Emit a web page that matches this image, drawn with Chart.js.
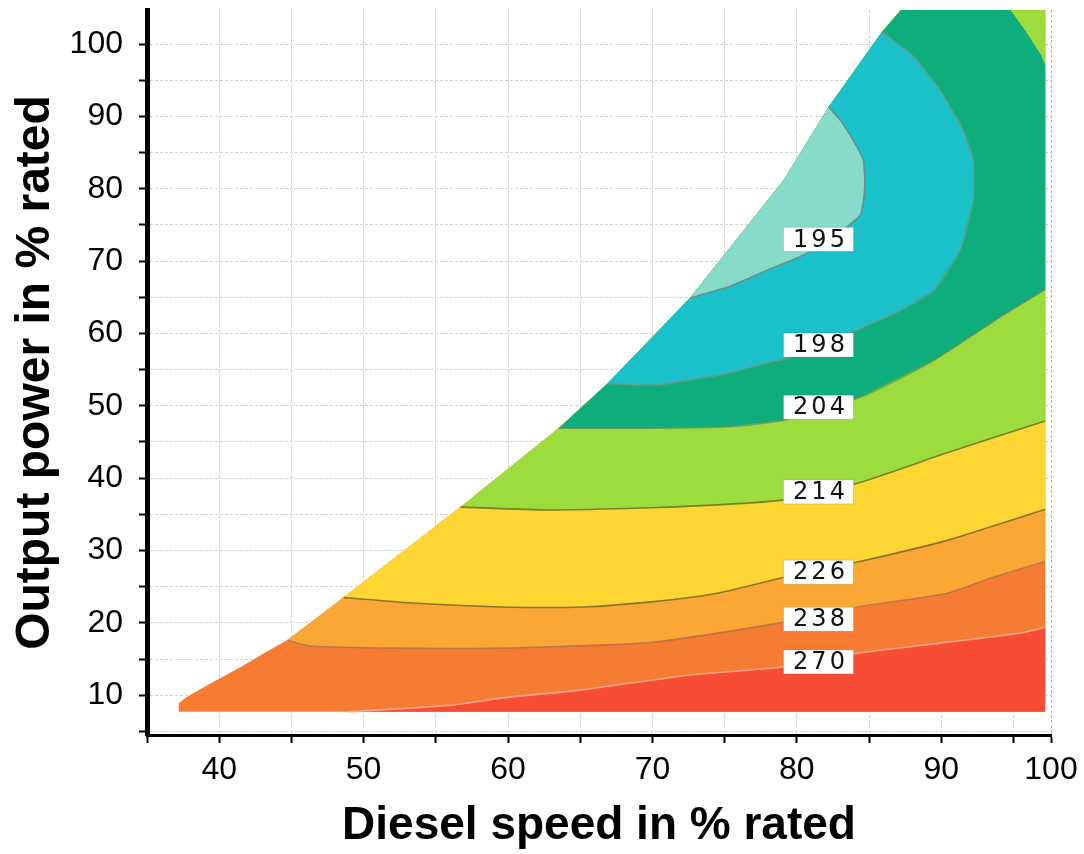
<!DOCTYPE html>
<html>
<head>
<meta charset="utf-8">
<script src="https://cdn.jsdelivr.net/npm/chart.js@4.4.0/dist/chart.umd.min.js"></script>
<style>
  html, body { margin: 0; padding: 0; background: #fff; }
</style>
</head>
<body>
<canvas id="bsfc-map" width="1084" height="854"></canvas>
<script>
// axis ranges, % rated
var speedMin = 35, speedMax = 97.6;
var powerMin = 4.5, powerMax = 104.7;
var speedTickLabels = [40, 50, 60, 70, 80, 90, 100];

// operating envelope: left (full load) edge, bottom to top
var leftEdge = [[37.2, 7.7], [37.2, 8.9], [37.7, 9.7], [39.2, 11.4], [41.5, 13.9], [43.1, 15.8],
    [44.7, 17.6], [48.6, 23.5], [56.7, 36.0], [63.5, 46.9], [66.9, 53.1], [72.6, 64.9],
    [79.1, 81.2], [82.2, 91.3], [85.9, 101.7], [87.2, 104.7]];
var rightSpeed = 97.2, bottomPower = 7.7, topPower = 104.7;

// iso-consumption lines (g/kWh), [speed, power]
var line270 = [[48.9, 7.7], [56.0, 8.6], [59.5, 9.6], [65.0, 10.7], [72.6, 12.8], [79.1, 13.9],
    [84.2, 15.8], [89.9, 17.2], [95.5, 18.6], [97.2, 19.4]];
var line238 = [[44.7, 17.6], [46.3, 16.8], [52.5, 16.5], [59.5, 16.5], [69.9, 17.3], [79.1, 20.1],
    [84.2, 22.2], [90.4, 24.1], [93.6, 26.3], [97.2, 28.5]];
var line226 = [[48.6, 23.5], [53.7, 22.7], [59.5, 22.2], [65.2, 22.2], [69.9, 22.9], [74.5, 24.1],
    [78.9, 26.2], [84.2, 28.4], [90.4, 31.4], [97.2, 35.7]];
var line214 = [[56.7, 36.0], [62.9, 35.6], [69.9, 35.9], [74.5, 36.3], [79.1, 37.0], [84.2, 39.3],
    [90.4, 43.5], [97.2, 47.9]];
var line204 = [[63.5, 46.9], [69.9, 46.9], [75.2, 47.1], [79.1, 48.0], [84.4, 51.2], [89.5, 56.3],
    [94.1, 62.3], [97.2, 66.1]];
var line204top = [[97.2, 97.1], [96.9, 98.5], [95.8, 101.9], [94.8, 104.7]];
var line198 = [[66.9, 53.1], [70.3, 52.9], [75.2, 54.5], [78.0, 56.0], [79.5, 56.6], [84.4, 60.7],
    [87.2, 63.2], [89.5, 66.0], [91.3, 71.5], [92.2, 78.4], [92.2, 84.0], [91.5, 88.1],
    [89.9, 93.6], [88.1, 98.2], [85.9, 101.7]];
var line195 = [[72.6, 64.9], [75.2, 66.4], [78.0, 68.8], [80.2, 70.6], [82.3, 72.9], [84.4, 76.4],
    [84.7, 80.2], [84.6, 84.0], [83.9, 86.7], [83.0, 89.5], [82.2, 91.3]];

// line labels
var levelLabels = ['195', '198', '204', '214', '226', '238', '270'];
var labelSpeed = 81.5;
var labelPower = [73.0, 58.4, 49.8, 38.1, 27.0, 20.5, 14.6];

function edgeBetween(lo, hi) {
    return leftEdge.filter(function (p) { return p[1] > lo && p[1] < hi; }).reverse();
}
function aboveLine(line) {
    return line.concat([[rightSpeed, topPower]], edgeBetween(line[0][1], Infinity));
}
function toXY(pts) {
    return pts.map(function (p) { return {x: p[0], y: p[1]}; });
}
function noPadding(s) {
    s.paddingTop = 0;
    s.paddingBottom = 0;
    s.paddingLeft = 0;
    s.paddingRight = 0;
}

var regions = [
    {pts: leftEdge.concat([[rightSpeed, topPower], [rightSpeed, bottomPower]]), color: '#F77C33'},
    {pts: line270.concat([[rightSpeed, bottomPower]]), color: '#F64D34'},
    {pts: aboveLine(line238), color: '#FBA735'},
    {pts: aboveLine(line226), color: '#FDD634'},
    {pts: aboveLine(line214), color: '#9CDC3D'},
    {pts: line204.concat(line204top, edgeBetween(line204[0][1], Infinity)), color: '#0EAE7C'},
    {pts: line198.concat(edgeBetween(line198[0][1], line198[line198.length - 1][1])), color: '#1AC1C8'},
    {pts: line195.concat(edgeBetween(line195[0][1], line195[line195.length - 1][1])), color: '#86DCC9'}
];
var isoLines = [
    {pts: line270, color: 'rgba(250,170,150,0.9)'},
    {pts: line238, color: 'rgba(150,110,80,0.6)'},
    {pts: line226, color: 'rgba(110,100,40,0.8)'},
    {pts: line214, color: 'rgba(90,110,40,0.8)'},
    {pts: line204, color: 'rgba(100,130,100,0.7)'},
    {pts: line198, color: 'rgba(120,150,150,0.8)'},
    {pts: line195, color: 'rgba(120,130,130,0.8)'}
];

var datasets = [];
regions.forEach(function (r) {
    datasets.push({
        data: toXY(r.pts),
        backgroundColor: r.color,
        borderWidth: 0,
        fill: 'shape',
        pointRadius: 0,
        tension: 0,
        xAxisID: 'x',
        yAxisID: 'y'
    });
});
isoLines.forEach(function (l) {
    datasets.push({
        data: toXY(l.pts),
        borderColor: l.color,
        borderWidth: 1.6,
        fill: false,
        pointRadius: 0,
        tension: 0.2,
        xAxisID: 'x',
        yAxisID: 'y'
    });
});
// first in list is painted first
datasets.forEach(function (d, i) { d.order = 1000 - i; });

var contourLabels = {
    id: 'contourLabels',
    afterDraw: function (chart) {
        var c = chart.ctx, xs = chart.scales.x, ys = chart.scales.y;
        c.save();
        c.font = '24px "DejaVu Sans"';
        c.letterSpacing = '3px';
        c.textAlign = 'center';
        c.textBaseline = 'middle';
        for (var i = 0; i < levelLabels.length; i++) {
            var px = xs.getPixelForValue(labelSpeed);
            var py = ys.getPixelForValue(labelPower[i]);
            c.fillStyle = '#fff';
            c.fillRect(px - 35, py - 12, 70, 24);
            c.strokeStyle = 'rgba(0,0,0,0.12)';
            c.lineWidth = 1;
            c.strokeRect(px - 35, py - 12, 70, 24);
            c.fillStyle = '#111';
            c.fillText(levelLabels[i], px + 2, py + 1);
        }
        c.restore();
    }
};

var tickFont = {family: 'Liberation Sans', size: 32};

new Chart(document.getElementById('bsfc-map'), {
    type: 'line',
    data: {datasets: datasets},
    plugins: [contourLabels],
    options: {
        responsive: false,
        animation: false,
        events: [],
        layout: {autoPadding: false, padding: {top: 10, right: 33, left: 0, bottom: 0}},
        plugins: {legend: {display: false}, tooltip: {enabled: false}},
        scales: {
            x: {
                type: 'linear',
                position: 'bottom',
                min: speedMin,
                max: speedMax,
                afterFit: function (s) { s.height = 119; noPadding(s); },
                afterBuildTicks: function (s) {
                    s.ticks = s.ticks.filter(function (t) { return t.value < speedMax - 1; });
                    s.ticks.push({value: speedMax});
                },
                ticks: {
                    stepSize: 5,
                    includeBounds: false,
                    autoSkip: false,
                    maxRotation: 0,
                    padding: 8,
                    color: '#000',
                    font: tickFont,
                    callback: function (v) {
                        if (v === speedMax) return String(speedTickLabels[speedTickLabels.length - 1]);
                        return speedTickLabels.indexOf(v) >= 0 ? String(v) : '';
                    }
                },
                grid: {color: '#b4b4b4', tickColor: '#000', tickLength: 8, tickWidth: 2},
                border: {color: '#000', width: 3, dash: [3, 2]},
                title: {
                    display: true,
                    text: 'Diesel speed in % rated',
                    color: '#000',
                    font: {family: 'Liberation Sans', size: 46, weight: 'bold'},
                    padding: {top: 0, bottom: 0}
                }
            },
            y: {
                type: 'linear',
                position: 'left',
                min: powerMin,
                max: powerMax,
                afterFit: function (s) { s.width = 147; noPadding(s); },
                ticks: {
                    stepSize: 5,
                    includeBounds: false,
                    autoSkip: false,
                    padding: 16,
                    color: '#000',
                    font: tickFont,
                    callback: function (v) { return v % 10 === 0 ? String(v) : ''; }
                },
                grid: {color: '#b4b4b4', tickColor: '#000', tickLength: 8, tickWidth: 2},
                border: {color: '#000', width: 5, dash: [3, 2]},
                title: {
                    display: true,
                    text: 'Output power in % rated',
                    color: '#000',
                    font: {family: 'Liberation Sans', size: 48, weight: 'bold'},
                    padding: {top: 7, bottom: 0}
                }
            },
            // light grid drawn over the coloured map
            x2: {
                type: 'linear',
                position: 'top',
                min: speedMin,
                max: speedMax,
                z: 1,
                afterFit: function (s) { s.height = 0; noPadding(s); },
                afterBuildTicks: function (s) {
                    s.ticks = s.ticks.filter(function (t) { return t.value > speedMin && t.value < speedMax; });
                },
                ticks: {display: false, stepSize: 5, includeBounds: false},
                grid: {color: 'rgba(255,255,255,0.4)', drawTicks: false},
                border: {display: false}
            },
            y2: {
                type: 'linear',
                position: 'right',
                min: powerMin,
                max: powerMax,
                z: 1,
                afterFit: function (s) { s.width = 0; noPadding(s); },
                ticks: {display: false, stepSize: 5, includeBounds: false},
                grid: {color: 'rgba(255,255,255,0.4)', drawTicks: false},
                border: {display: false}
            }
        }
    }
});
</script>
</body>
</html>
